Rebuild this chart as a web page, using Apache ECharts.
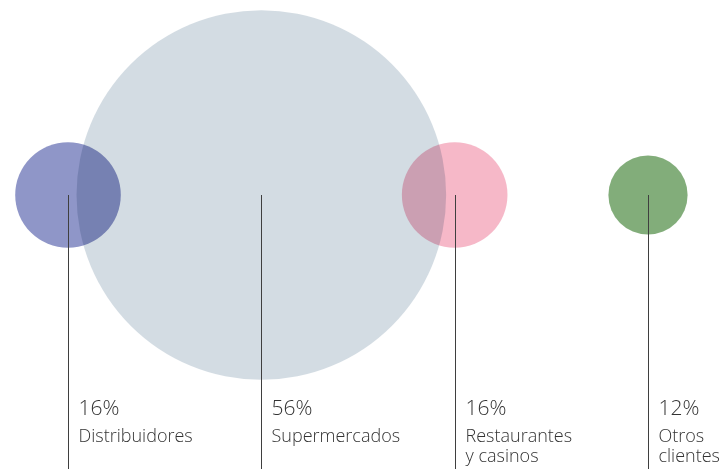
<!DOCTYPE html>
<html>
<head>
<meta charset="utf-8">
<script src="https://cdn.jsdelivr.net/npm/echarts@6/dist/echarts.min.js"></script>
<style>html,body{margin:0;padding:0;background:#fff}#c{width:727px;height:469px}</style>
</head>
<body>
<div id="c"></div>
<script>
var categories = ['Distribuidores', 'Supermercados', 'Restaurantes\ny casinos', 'Otros\nclientes'];
var shares = [16, 56, 16, 12];
var colors = ['#8f96c8', '#d3dce3', '#f6b8c8', '#82ad7a'];
var drawOrder = [1, 0, 2, 3];

var chart = echarts.init(document.getElementById('c'));
var bubbleData = drawOrder.map(function (i) {
  return { value: [i, 1, shares[i]], itemStyle: { color: colors[i] } };
});
var lineData = categories.map(function (c, i) { return [i, 1, shares[i], c]; });

chart.setOption({
  backgroundColor: '#ffffff',
  animation: false,
  grid: { left: 68, right: 79, top: 195, bottom: 0 },
  xAxis: { type: 'value', min: 0, max: 3, show: false },
  yAxis: { type: 'value', min: 0, max: 1, show: false },
  series: [
    {
      type: 'scatter',
      clip: false,
      blendMode: 'multiply',
      symbol: 'circle',
      symbolSize: function (v) { return v[2] * 6.6; },
      data: bubbleData,
      itemStyle: { opacity: 1 },
      emphasis: { disabled: true },
      z: 1
    },
    {
      type: 'custom',
      clip: false,
      z: 5,
      data: lineData,
      renderItem: function (params, api) {
        var top = api.coord([api.value(0), api.value(1)]);
        var bot = api.coord([api.value(0), 0]);
        var x = Math.round(top[0]) + 0.5;
        var name = categories[params.dataIndex];
        return {
          type: 'group',
          children: [
            { type: 'line', shape: { x1: x, y1: top[1], x2: x, y2: bot[1] },
              style: { stroke: '#3f3f3f', lineWidth: 1 } },
            { type: 'text', x: x + 10, y: bot[1] - 70,
              style: { text: api.value(2) + '%', font: '300 21px "Open Sans"', fill: '#333333', textVerticalAlign: 'top' } },
            { type: 'text', x: x + 10, y: bot[1] - 42,
              style: { text: name, font: '300 18px "Open Sans"', lineHeight: 20, fill: '#333333', textVerticalAlign: 'top' } }
          ]
        };
      }
    }
  ]
});
</script>
</body>
</html>
